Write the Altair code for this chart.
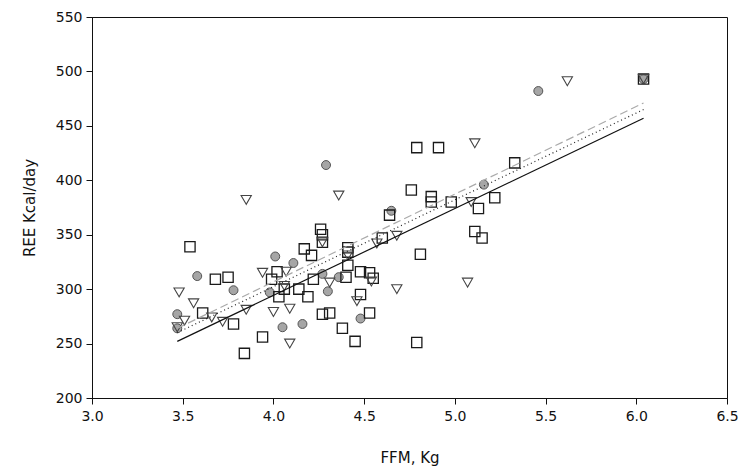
import altair as alt
import pandas as pd

# ---- data ----
circle_x = [3.47, 3.47, 3.58, 3.78, 4.01, 3.98, 4.11, 4.05, 4.16, 4.27, 4.36, 4.30,
            4.48, 4.29, 4.65, 5.16, 5.46, 6.04]
circle_y = [264, 277, 312, 299, 330, 297, 324, 265, 268, 314, 311, 298,
            273, 414, 372, 396, 482, 493]

square_x = [3.54, 3.68, 3.75, 3.61, 3.78, 3.84, 3.94, 3.99, 4.02, 4.06, 4.03, 4.14,
            4.19, 4.17, 4.21, 4.26, 4.27, 4.27, 4.22, 4.41, 4.41, 4.41, 4.40, 4.48,
            4.53, 4.55, 4.48, 4.27, 4.31, 4.53, 4.38, 4.45, 4.79, 4.60, 4.64, 4.76,
            4.79, 4.91, 4.87, 4.87, 4.98, 4.81, 5.11, 5.15, 5.13, 5.22, 5.33, 6.04]
square_y = [339, 309, 311, 278, 268, 241, 256, 309, 316, 300, 293, 300,
            293, 337, 331, 355, 350, 343, 309, 338, 334, 322, 311, 316,
            315, 310, 295, 277, 278, 278, 264, 252, 251, 347, 368, 391,
            430, 430, 385, 380, 380, 332, 353, 347, 374, 384, 416, 493]

tri_x = [3.47, 3.48, 3.51, 3.56, 3.66, 3.72, 3.85, 3.85, 3.94, 4.00, 4.07, 4.06,
         4.09, 4.09, 4.27, 4.41, 4.31, 4.54, 4.46, 4.36, 4.57, 4.68, 4.68, 5.09,
         5.11, 5.07, 5.62, 6.04]
tri_y = [265, 297, 271, 287, 274, 270, 281, 382, 315, 279, 316, 303,
         282, 250, 343, 331, 306, 307, 289, 386, 342, 349, 300, 380,
         434, 306, 491, 493]

line_x = [3.47, 6.04]
solid_y = [252, 457]
dotted_y = [260, 465]
dashed_y = [264, 471]

x_ticks = [3.0, 3.5, 4.0, 4.5, 5.0, 5.5, 6.0, 6.5]
y_ticks = [200, 250, 300, 350, 400, 450, 500, 550]

df_c = pd.DataFrame({"FFM": circle_x, "REE": circle_y})
df_s = pd.DataFrame({"FFM": square_x, "REE": square_y})
df_t = pd.DataFrame({"FFM": tri_x, "REE": tri_y})
df_solid = pd.DataFrame({"FFM": line_x, "REE": solid_y})
df_dot = pd.DataFrame({"FFM": line_x, "REE": dotted_y})
df_dash = pd.DataFrame({"FFM": line_x, "REE": dashed_y})

FONT = "DejaVu Sans"

x_scale = alt.Scale(domain=[3.0, 6.5], nice=False, zero=False)
y_scale = alt.Scale(domain=[200, 550], nice=False, zero=False)

x_enc = alt.X("FFM:Q", scale=x_scale,
              axis=alt.Axis(title="FFM, Kg", values=x_ticks, format=".1f",
                            grid=False, tickSize=6, labelPadding=5,
                            titlePadding=27, labelFlush=False))
y_enc = alt.Y("REE:Q", scale=y_scale,
              axis=alt.Axis(title="REE Kcal/day", values=y_ticks, format="d",
                            grid=False, tickSize=6, labelPadding=4,
                            titlePadding=18, labelFlush=False))

squares = alt.Chart(df_s).mark_point(
    shape="square", size=105, filled=False, stroke="#1a1a1a", strokeWidth=1.3, opacity=1
).encode(x=x_enc, y=y_enc)

triangles = alt.Chart(df_t).mark_point(
    shape="triangle-down", size=105, filled=False, stroke="#444444", strokeWidth=1.1, opacity=1
).encode(x=x_enc, y=y_enc)

circles = alt.Chart(df_c).mark_point(
    shape="circle", size=80, filled=True, fill="#a6a6a6", stroke="#555555",
    strokeWidth=1, opacity=1
).encode(x=x_enc, y=y_enc)

solid = alt.Chart(df_solid).mark_line(color="#111111", strokeWidth=1.2).encode(x=x_enc, y=y_enc)
dotted = alt.Chart(df_dot).mark_line(color="#222222", strokeWidth=1.2,
                                     strokeDash=[1, 3]).encode(x=x_enc, y=y_enc)
dashed = alt.Chart(df_dash).mark_line(color="#aaaaaa", strokeWidth=1.2,
                                      strokeDash=[8, 4]).encode(x=x_enc, y=y_enc)

chart = alt.layer(circles, squares, triangles, dashed, dotted, solid).properties(
    width=635, height=381,
    autosize=alt.AutoSizeParams(type="none"),
    padding={"left": 84, "top": 9, "right": 12, "bottom": 70},
).configure_view(
    stroke="#111111", strokeWidth=1
).configure_axis(
    domainColor="#111111", tickColor="#111111", labelColor="#111111",
    titleColor="#111111", labelFont=FONT, titleFont=FONT,
    labelFontSize=14, titleFontSize=15, titleFontWeight="normal"
)

chart.save("out.html", embed_options={"renderer": "svg", "actions": False})
